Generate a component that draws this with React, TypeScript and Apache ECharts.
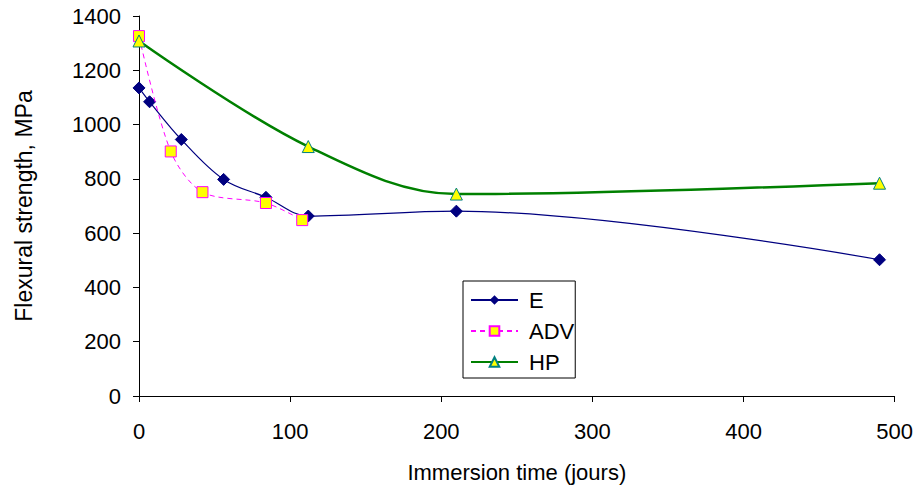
import React, { useEffect, useRef } from "react";
import * as echarts from "echarts";

const eData: [number, number][] = [
  [0, 1135], [7, 1084], [28, 945], [56, 798], [84, 732], [112, 663], [210, 681], [490, 502],
];
const advData: [number, number][] = [
  [0, 1326], [21, 901], [42, 751], [84, 711], [108, 648],
];
const hpData: [number, number][] = [
  [0, 1308], [112, 919], [210, 744], [490, 784],
];
const seriesNames = ["E", "ADV", "HP"];
const xTitle = "Immersion time (jours)";
const yTitle = "Flexural strength, MPa";

const FONT = "Liberation Sans, Arial, sans-serif";

export default function App() {
  const ref = useRef<HTMLDivElement>(null);
  useEffect(() => {
    document.body.style.margin = "0";
    if (!ref.current) return;
    const chart = echarts.init(ref.current, undefined, { renderer: "svg" });
    chart.setOption({
      animation: false,
      backgroundColor: "#ffffff",
      textStyle: { fontFamily: FONT },
      grid: { left: 139, right: 21, top: 16, bottom: 90, containLabel: false },
      xAxis: {
        type: "value",
        min: 0,
        max: 500,
        interval: 100,
        name: xTitle,
        nameLocation: "middle",
        nameGap: 65,
        nameTextStyle: { fontSize: 22, color: "#000", fontFamily: FONT },
        axisLine: { show: true, lineStyle: { color: "#000", width: 1 } },
        axisTick: { show: true, length: 6, lineStyle: { color: "#000" } },
        axisLabel: { fontSize: 22, color: "#000", margin: 24, fontFamily: FONT, formatter: (v: number) => String(v) },
        splitLine: { show: false },
      },
      yAxis: {
        type: "value",
        min: 0,
        max: 1400,
        interval: 200,
        name: yTitle,
        nameLocation: "middle",
        nameRotate: 90,
        nameGap: 104,
        nameTextStyle: { fontSize: 23, color: "#000", fontFamily: FONT },
        axisLine: { show: true, lineStyle: { color: "#000", width: 1 } },
        axisTick: { show: true, length: 6, lineStyle: { color: "#000" } },
        axisLabel: { fontSize: 22, color: "#000", margin: 18, fontFamily: FONT, formatter: (v: number) => String(v) },
        splitLine: { show: false },
      },
      legend: {
        orient: "vertical",
        left: 463,
        top: 281,
        data: seriesNames,
        itemWidth: 47,
        itemHeight: 12,
        itemGap: 9,
        padding: [8, 1, 5, 7],
        borderColor: "#000",
        borderWidth: 1,
        backgroundColor: "#fff",
        textStyle: { fontSize: 22, color: "#000", fontFamily: FONT, padding: [0, 0, 0, 6] },
      },
      series: [
        {
          name: seriesNames[0],
          type: "line",
          data: eData,
          smooth: 0.35,
          symbol: "diamond",
          symbolSize: 12,
          itemStyle: { color: "#000080", borderColor: "#000080" },
          lineStyle: { color: "#000080", width: 1.2 },
          z: 3,
        },
        {
          name: seriesNames[1],
          type: "line",
          data: advData,
          smooth: 0.3,
          symbol: "rect",
          symbolSize: 11,
          itemStyle: { color: "#ffff00", borderColor: "#ff00ff", borderWidth: 1 },
          lineStyle: { color: "#ff00ff", width: 1, type: [5, 4] },
          z: 4,
        },
        {
          name: seriesNames[2],
          type: "line",
          data: hpData,
          smooth: 0.35,
          symbol: "triangle",
          symbolSize: 12,
          itemStyle: { color: "#ffff00", borderColor: "#008080", borderWidth: 1 },
          lineStyle: { color: "#008000", width: 2.5 },
          z: 5,
        },
      ],
    });
    return () => chart.dispose();
  }, []);
  return <div ref={ref} style={{ width: 916, height: 488 }} />;
}
